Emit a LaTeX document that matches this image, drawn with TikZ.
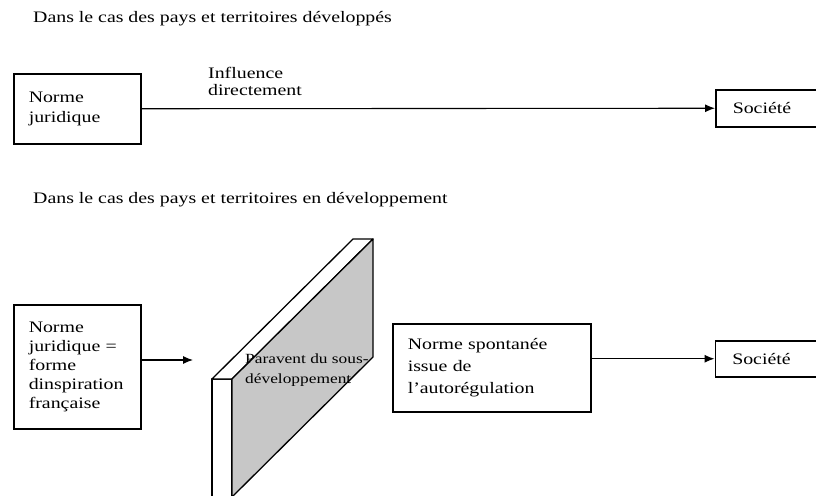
\documentclass[tikz,border=0pt]{standalone}
\usepackage{fontspec}
\setmainfont{Liberation Serif}[FakeStretch=1.24]
\usetikzlibrary{shapes,arrows,arrows.meta,positioning}
\tikzset{
  box/.style={draw=black,line width=1.5pt,align=left,anchor=north west,inner xsep=15pt,font=\fontsize{16}{20}\selectfont},
  lbl/.style={align=left,anchor=north west,inner sep=0pt,font=\fontsize{16}{19}\selectfont},
  wall/.style={draw=black,line width=1.3pt,line join=round},
  link/.style={-{Latex[length=10pt,width=8pt]},line width=1.1pt},
}
\begin{document}
\begin{tikzpicture}[x=1pt,y=-1pt]
\useasboundingbox (0,0) rectangle (816,495);
% Titles
\draw(33,11) node[lbl](T1){Dans le cas des pays et territoires développés};
\draw(33,192) node[lbl](T2){Dans le cas des pays et territoires en développement};
% Developed countries
\draw(13,73) node[box,text width=97,minimum height=70](NJ){Norme\\juridique};
\draw(715,89) node[box,text width=86,inner xsep=17pt,minimum height=37](SOC1){Société};
\draw(208,67) node[lbl,font=\fontsize{16}{17}\selectfont](INF){Influence\\directement};
% Arrows
\draw [link] (NJ.east) -- (SOC1.west);
% Developing countries
\draw(13,304) node[box,text width=97,minimum height=124,font=\fontsize{16}{19}\selectfont](NJF){Norme\\juridique =\\forme\\dinspiration\\française};
\coordinate (EP) at (193,360);
% Screen of underdevelopment
\draw[wall,fill=white] (212,379) rectangle (232,500);
\draw[wall,fill=white] (212,379) -- (353,239) -- (373,239) -- (232,379) -- cycle;
\draw[wall,fill=black!22] (232,379) -- (373,239) -- (373,357) -- (232,497) -- cycle;
\draw(245,354) node[lbl,font=\fontsize{14}{20}\selectfont](PAR){Paravent du sous-\\développement};
\draw(392,323) node[box,text width=168,minimum height=88,font=\fontsize{16}{22}\selectfont](NSA){Norme spontanée\\issue de\\l'autorégulation};
\node[box,right=123 of NSA.north east,anchor=north west,yshift=-17,text width=86,inner xsep=17pt,minimum height=36](SOC2){Société};
%% Arrows
\draw [link] (NJF.east |- EP) -- (EP);
\draw [link] (NSA.east |- SOC2.west) -- (SOC2.west);
\end{tikzpicture}
\end{document}
